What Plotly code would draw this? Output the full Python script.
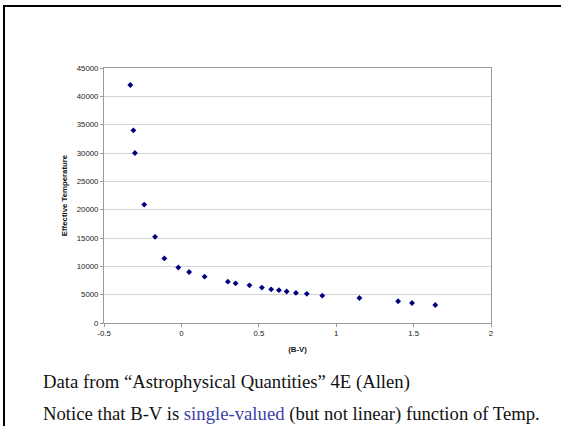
import plotly.graph_objects as go

# Data (Allen, Astrophysical Quantities 4E)
b_v = [-0.33, -0.31, -0.30, -0.24, -0.17, -0.11, -0.02, 0.05, 0.15, 0.30, 0.35,
       0.44, 0.52, 0.58, 0.63, 0.68, 0.74, 0.81, 0.91, 1.15, 1.40, 1.49, 1.64]
teff = [42000, 34000, 30000, 20900, 15200, 11400, 9790, 9000, 8180, 7300, 7000,
        6650, 6250, 5940, 5790, 5560, 5310, 5150, 4830, 4410, 3840, 3520, 3170]

x_ticks = [-0.5, 0, 0.5, 1, 1.5, 2]
x_tick_text = ["-0.5", "0", "0.5", "1", "1.5", "2"]
y_ticks = [0, 5000, 10000, 15000, 20000, 25000, 30000, 35000, 40000, 45000]
y_tick_text = [str(v) for v in y_ticks]

W, H = 561, 426
L, R, T, B = 104, 491, 68, 323

def px(x):
    return (x - L) / (R - L)

def py(y):
    return (B - y) / (B - T)

fig = go.Figure()
fig.add_trace(go.Scatter(
    x=b_v, y=teff, mode="markers",
    marker=dict(symbol="diamond", size=4.5, color="#000080"),
    showlegend=False,
))

axis_font = dict(family="Liberation Sans, Arial", size=7.8, color="#222222")
title_font = dict(family="Liberation Sans, Arial", size=7.8, color="#111111")
fig.update_layout(
    width=W, height=H,
    margin=dict(l=L, r=W - R, t=T, b=H - B, pad=0),
    paper_bgcolor="white", plot_bgcolor="white",
    xaxis=dict(
        range=[-0.5, 2], tickvals=x_ticks, ticktext=x_tick_text,
        showgrid=False, zeroline=False,
        showline=True, linecolor="#9a9a9a", linewidth=1, mirror=True,
        ticks="outside", ticklen=3, tickcolor="#9a9a9a",
        tickfont=axis_font,
        title=dict(text="<b>(B-V)</b>", font=title_font, standoff=9),
    ),
    yaxis=dict(
        range=[0, 45000], tickvals=y_ticks, ticktext=y_tick_text,
        showgrid=True, gridcolor="#d4d4d4", gridwidth=1, zeroline=False,
        showline=True, linecolor="#9a9a9a", linewidth=1, mirror=True,
        ticks="outside", ticklen=3, tickcolor="#9a9a9a",
        tickfont=axis_font,
        title=dict(text="<b>Effective Temperature</b>", font=title_font, standoff=8),
    ),
    font=dict(family="Liberation Sans, Arial"),
)

# slide frame (top and left black borders)
fig.add_shape(type="line", xref="paper", yref="paper",
              x0=px(4), x1=px(W), y0=py(6), y1=py(6),
              line=dict(color="black", width=2))
fig.add_shape(type="line", xref="paper", yref="paper",
              x0=px(4), x1=px(4), y0=py(5), y1=py(H),
              line=dict(color="black", width=2))

serif = dict(family="Liberation Serif, Times New Roman", size=18.7, color="#111111")
fig.add_annotation(xref="paper", yref="paper", x=px(41), y=py(382),
                   xanchor="left", yanchor="middle", showarrow=False,
                   text="Data from \u201cAstrophysical Quantities\u201d 4E (Allen)",
                   font=serif)
fig.add_annotation(xref="paper", yref="paper", x=px(41), y=py(414),
                   xanchor="left", yanchor="middle", showarrow=False,
                   text="Notice that B-V is <span style='color:#4040a8'>single-valued</span> (but not linear) function of Temp.",
                   font=serif)

fig.write_html("out.html",
               config={"displayModeBar": False},
               post_script="document.body.style.margin='0';document.body.style.overflow='hidden';")
